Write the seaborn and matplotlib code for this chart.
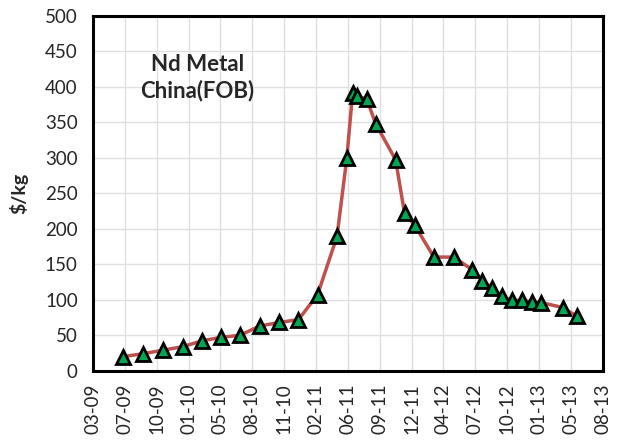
import matplotlib
matplotlib.use('Agg')
import matplotlib.pyplot as plt
import matplotlib.dates as mdates
import pandas as pd
import seaborn as sns

# Nd metal price, China FOB ($/kg)
dates = ['2009-07-01', '2009-09-01', '2009-11-03', '2010-01-04', '2010-03-04',
         '2010-05-03', '2010-07-03', '2010-09-02', '2010-11-03', '2011-01-02',
         '2011-03-03', '2011-05-03', '2011-06-03', '2011-06-21', '2011-07-04',
         '2011-08-05', '2011-09-01', '2011-11-03', '2011-12-01', '2012-01-02',
         '2012-03-02', '2012-05-04', '2012-07-01', '2012-08-01', '2012-09-01',
         '2012-10-01', '2012-11-01', '2012-12-03', '2013-01-03', '2013-02-02',
         '2013-04-11', '2013-05-24']
prices = [20, 24, 29, 34, 42, 47, 50, 63, 68, 72,
          107, 189, 300, 391, 387, 382, 348, 297, 222, 205,
          160, 160, 142, 127, 117, 105, 99, 99, 97, 96,
          89, 77]

axis_start = '2009-03-28'
n_ticks = 17

df = pd.DataFrame({'date': pd.to_datetime(dates), 'price': prices})

sns.set_style('white')
plt.rcParams['font.family'] = ['Lato', 'DejaVu Sans']

fig = plt.figure(figsize=(6.2, 4.43), dpi=100)
ax = fig.add_axes([0.15, 0.163, 0.822, 0.802])

sns.lineplot(data=df, x='date', y='price', ax=ax, color='#c0504d', linewidth=2.5,
             marker='^', markersize=10, markerfacecolor='#00a651',
             markeredgecolor='black', markeredgewidth=2, sort=False, zorder=3)

ticks = pd.date_range(axis_start, periods=n_ticks, freq='100D')
ax.set_xlim(ticks[0], ticks[-1])
ax.set_xticks(ticks)
ax.xaxis.set_major_formatter(mdates.DateFormatter('%m-%y'))
ax.set_ylim(0, 500)
ax.set_yticks(range(0, 501, 50))

ax.grid(True, color='#e0e0e0', linewidth=1)
ax.set_axisbelow(True)
for s in ax.spines.values():
    s.set_color('black')
    s.set_linewidth(2.2)

ax.tick_params(axis='both', length=0, labelsize=13.5)
ax.tick_params(axis='y', pad=11)
ax.tick_params(axis='x', pad=9, labelrotation=90)

ax.set_xlabel('')
ax.set_ylabel('$/kg', fontsize=14, fontweight='bold', labelpad=12)

ax.text(0.205, 0.825, 'Nd Metal\nChina(FOB)', transform=ax.transAxes,
        ha='center', va='center', fontsize=16, fontweight='bold',
        linespacing=1.25)

fig.savefig('out.png', dpi=100)
